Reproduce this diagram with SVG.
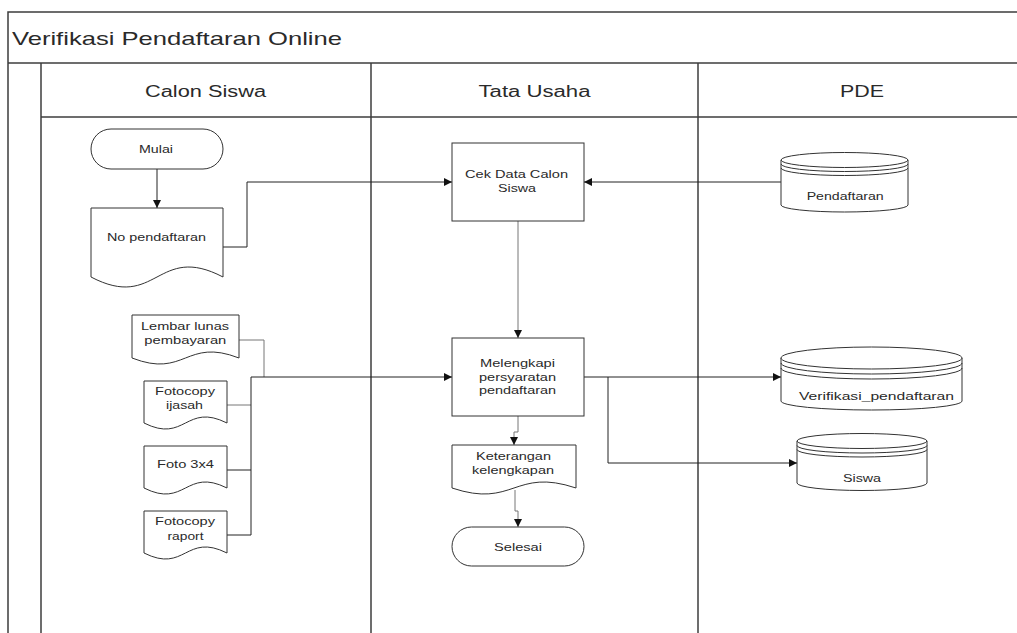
<svg xmlns="http://www.w3.org/2000/svg" width="1017" height="633" viewBox="0 0 1017 633">
<style>
.frame{fill:none;stroke:#3c3c3c;stroke-width:1.5}
.node{fill:#fff;stroke:#333;stroke-width:1}
.arc{fill:none;stroke:#333;stroke-width:1}
.conn{fill:none;stroke:#222;stroke-width:1}
.connl{fill:none;stroke:#777;stroke-width:1}
text{font-family:"Liberation Sans",Arial,sans-serif;fill:#2a2a2a}
.t{font-size:11px}
.h{font-size:16px}
.title{font-size:18.5px}
</style>
<defs>
<marker id="ah" viewBox="0 0 10 10" refX="10" refY="5" markerWidth="8" markerHeight="8" markerUnits="userSpaceOnUse" orient="auto">
<path d="M0,0 L10,5 L0,10 z" fill="#111"/>
</marker>
</defs>
<rect width="1017" height="633" fill="#fff"/>
<g id="frame">
<path class="frame" d="M1017,12 H8 V633"/>
<path class="frame" d="M8,63 H1017"/>
<path class="frame" d="M41,63 V633"/>
<path class="frame" d="M41,117 H1017"/>
<path class="frame" d="M371,63 V633"/>
<path class="frame" d="M698,63 V633"/>
<text class="title" x="12" y="45" textLength="330" lengthAdjust="spacingAndGlyphs">Verifikasi Pendaftaran Online</text>
<text class="h" x="145" y="97" textLength="121" lengthAdjust="spacingAndGlyphs">Calon Siswa</text>
<text class="h" x="478.5" y="97" textLength="112" lengthAdjust="spacingAndGlyphs">Tata Usaha</text>
<text class="h" x="840" y="97" textLength="44" lengthAdjust="spacingAndGlyphs">PDE</text>
</g>
<g id="connectors">
<path class="conn" d="M157,169 V208" marker-end="url(#ah)"/>
<path class="conn" d="M223,247 H247 V182 H452" marker-end="url(#ah)"/>
<path class="conn" d="M781,182 H584" marker-end="url(#ah)"/>
<path class="connl" d="M518,221 V338" marker-end="url(#ah)"/>
<path class="connl" d="M239,340 H264 V377"/>
<path class="connl" d="M227,405 H251"/>
<path class="conn" d="M227,470 H251"/>
<path class="conn" d="M227,535 H251 V377 H452" marker-end="url(#ah)"/>
<path class="connl" d="M518,416 V432 H514 V445" marker-end="url(#ah)"/>
<path class="connl" d="M515,490 V511 H518 V527" marker-end="url(#ah)"/>
<path class="conn" d="M584,377 H781" marker-end="url(#ah)"/>
<path class="conn" d="M608,377 V463 H797" marker-end="url(#ah)"/>
</g>
<g id="mulai">
<rect class="node" x="91" y="129" width="132" height="40" rx="20" ry="20"/>
<text class="t" x="139" y="152.5" textLength="34" lengthAdjust="spacingAndGlyphs">Mulai</text>
</g>
<g id="no-pendaftaran">
<path class="node" d="M91,208 H223 V277 C157,242.4 157,311.6 91,277 Z"/>
<text class="t" x="107" y="241" textLength="99" lengthAdjust="spacingAndGlyphs">No pendaftaran</text>
</g>
<g id="cek-data">
<rect class="node" x="452" y="143" width="132" height="78"/>
<text class="t" x="465" y="178" textLength="103" lengthAdjust="spacingAndGlyphs">Cek Data Calon</text>
<text class="t" x="498" y="191.5" textLength="38" lengthAdjust="spacingAndGlyphs">Siswa</text>
</g>
<g id="db-pendaftaran">
<path class="node" d="M781,160 V205 A63.5,7 0 0 0 908,205 V160"/>
<ellipse class="node" cx="844.5" cy="160" rx="63.5" ry="7.5"/>
<path class="arc" d="M781,164 A63.5,7.5 0 0 0 908,164"/>
<path class="arc" d="M781,168 A63.5,7.5 0 0 0 908,168"/>
<text class="t" x="806.7" y="200" textLength="77" lengthAdjust="spacingAndGlyphs">Pendaftaran</text>
</g>
<g id="lembar-lunas">
<path class="node" d="M132,315 H239 V358 C185.5,337.2 185.5,378.8 132,358 Z"/>
<text class="t" x="141" y="330" textLength="88" lengthAdjust="spacingAndGlyphs">Lembar lunas</text>
<text class="t" x="144.3" y="343.5" textLength="82" lengthAdjust="spacingAndGlyphs">pembayaran</text>
</g>
<g id="fotocopy-ijasah">
<path class="node" d="M144,381 H227 V423 C185.5,402.2 185.5,443.8 144,423 Z"/>
<text class="t" x="155" y="395" textLength="60" lengthAdjust="spacingAndGlyphs">Fotocopy</text>
<text class="t" x="166" y="408.5" textLength="37" lengthAdjust="spacingAndGlyphs">ijasah</text>
</g>
<g id="foto-3x4">
<path class="node" d="M144,446 H227 V488 C185.5,467.2 185.5,508.8 144,488 Z"/>
<text class="t" x="157" y="467.5" textLength="57" lengthAdjust="spacingAndGlyphs">Foto 3x4</text>
</g>
<g id="fotocopy-raport">
<path class="node" d="M144,511 H227 V553 C185.5,532.2 185.5,573.8 144,553 Z"/>
<text class="t" x="155" y="525" textLength="60" lengthAdjust="spacingAndGlyphs">Fotocopy</text>
<text class="t" x="167.5" y="540" textLength="36" lengthAdjust="spacingAndGlyphs">raport</text>
</g>
<g id="melengkapi">
<rect class="node" x="452" y="338" width="132" height="78"/>
<text class="t" x="480" y="367" textLength="75" lengthAdjust="spacingAndGlyphs">Melengkapi</text>
<text class="t" x="479" y="380.5" textLength="77" lengthAdjust="spacingAndGlyphs">persyaratan</text>
<text class="t" x="479" y="394" textLength="77" lengthAdjust="spacingAndGlyphs">pendaftaran</text>
</g>
<g id="keterangan">
<path class="node" d="M452,445 H576 V488 C514,467.2 514,508.8 452,488 Z"/>
<text class="t" x="476" y="460" textLength="75" lengthAdjust="spacingAndGlyphs">Keterangan</text>
<text class="t" x="472" y="473.5" textLength="82" lengthAdjust="spacingAndGlyphs">kelengkapan</text>
</g>
<g id="selesai">
<rect class="node" x="452" y="527" width="132" height="39" rx="19.5" ry="19.5"/>
<text class="t" x="494" y="550.5" textLength="48" lengthAdjust="spacingAndGlyphs">Selesai</text>
</g>
<g id="db-verifikasi">
<path class="node" d="M781,358 V401 A90.5,9 0 0 0 962,401 V358"/>
<ellipse class="node" cx="871.5" cy="358" rx="90.5" ry="11"/>
<path class="arc" d="M781,363 A90.5,11 0 0 0 962,363"/>
<path class="arc" d="M781,368 A90.5,11 0 0 0 962,368"/>
<text class="t" x="799" y="400" textLength="155" lengthAdjust="spacingAndGlyphs">Verifikasi_pendaftaran</text>
</g>
<g id="db-siswa">
<path class="node" d="M797,441 V483 A65,7.5 0 0 0 927,483 V441"/>
<ellipse class="node" cx="862" cy="441" rx="65" ry="7.5"/>
<path class="arc" d="M797,445.5 A65,7.5 0 0 0 927,445.5"/>
<path class="arc" d="M797,449.5 A65,7.5 0 0 0 927,449.5"/>
<text class="t" x="843" y="482" textLength="38" lengthAdjust="spacingAndGlyphs">Siswa</text>
</g>
</svg>
